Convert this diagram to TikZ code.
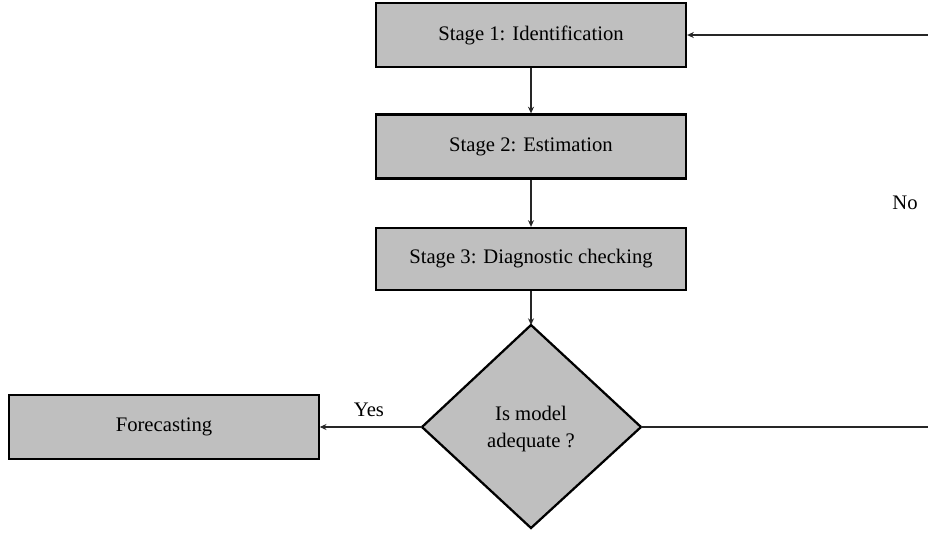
\documentclass[tikz,border=0pt]{standalone}
\usepackage{fontspec}
\setmainfont{Liberation Serif}
\usetikzlibrary{arrows.meta}
\begin{document}
\begin{tikzpicture}[x=0.75pt,y=-0.75pt,
  txt/.style={font=\fontsize{15.5}{18}\selectfont},
  stagebox/.style={txt,draw=black,line width=1.7pt,fill=gray!50,minimum width=232.5pt,minimum height=48pt,inner sep=0pt},
  decision/.style={draw=black,line width=1.7pt,fill=gray!50},
  conn/.style={draw=black!85,line width=1pt,-{Stealth[length=5pt,width=4.5pt]}},
  plainline/.style={draw=black!85,line width=1pt},
  lbl/.style={txt,inner sep=0pt}]
\useasboundingbox (0,0) rectangle (928,533);
\node[stagebox] (s1) at (531,35) {Stage 1: Identification};
\node[stagebox] (s2) at (531,146.5) {Stage 2: Estimation};
\node[stagebox, minimum height=46.5pt] (s3) at (531,259) {Stage 3: Diagnostic checking};
\coordinate (dl) at (422,427);
\coordinate (dr) at (641,427);
\coordinate (dt) at (531,325);
\coordinate (db) at (531,528);
\path[decision] (dl) -- (dt) -- (dr) -- (db) -- cycle;
\node[lbl,align=center] (dtext) at (531,429) {Is model\\[2pt]adequate ?};
\node[stagebox, minimum width=232pt, minimum height=48pt] (fc) at (164,427) {Forecasting};
\coordinate (rb) at (928,427);
\coordinate (rt) at (928,35);
\draw[conn] (s1) -- (s2);
\draw[conn] (s2) -- (s3);
\draw[conn] (s3) -- (dt);
\draw[conn] (dl) -- (fc.east |- dl);
\draw[plainline] (dr) -- (rb);
\draw[conn] (rt) -- (s1.east);
\node[lbl] (yes) at (369,410) {Yes};
\node[lbl] (no) at (905,203) {No};
\end{tikzpicture}
\end{document}
